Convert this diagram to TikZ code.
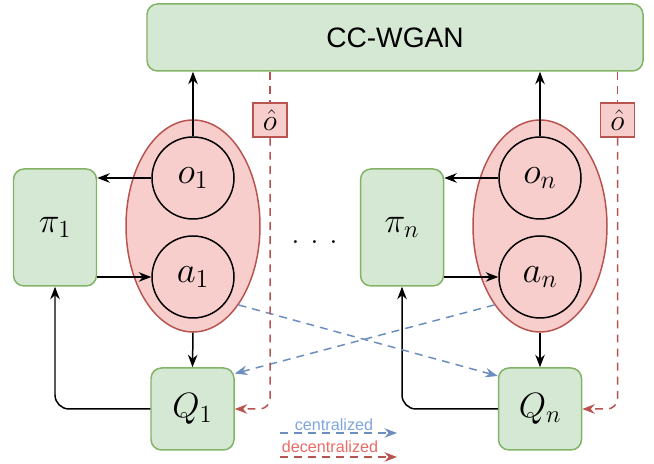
\documentclass[tikz,border=0pt]{standalone}
\usepackage{fix-cm}
\usepackage{fontspec}
\setsansfont{Liberation Sans}
\usetikzlibrary{arrows.meta,shapes.geometric}

\definecolor{boxgreen}{HTML}{D5E8D4}
\definecolor{linegreen}{HTML}{82B366}
\definecolor{boxred}{HTML}{F8CECC}
\definecolor{linered}{HTML}{B85450}
\definecolor{lineblue}{HTML}{6C8EBF}
\definecolor{textblue}{HTML}{7EA6E0}
\definecolor{textred}{HTML}{EA6B66}

\begin{document}
\begin{tikzpicture}[
    >={Stealth[length=2.5mm,width=1.9mm]},
    line width=0.85pt,
    netbox/.style={draw=linegreen, fill=boxgreen, rounded corners=6pt,
        minimum width=1.66cm, minimum height=1.64cm, font=\fontsize{20}{24}\selectfont},
    agent/.style={ellipse, draw=linered, fill=boxred, minimum width=2.68cm, minimum height=4.24cm},
    var/.style={circle, draw, fill=boxred, minimum size=1.64cm, inner sep=0pt, font=\fontsize{21}{25}\selectfont},
    obsbox/.style={draw=linered, fill=boxred, minimum size=0.68cm, inner sep=0pt, font=\fontsize{17}{20}\selectfont},
    central/.style={draw=lineblue, dash pattern=on 4.5pt off 3.5pt},
    decentral/.style={draw=linered, dash pattern=on 4.5pt off 3.5pt},
    legend/.style={anchor=base, font=\sffamily\fontsize{9.2}{10}\selectfont}
]
    \useasboundingbox (0,0) rectangle (13.08,9.28);

    % Discriminator
    \node[netbox, minimum width=9.92cm, minimum height=1.34cm, font=\sffamily\fontsize{16}{19}\selectfont]
        (wgan) at (7.90,8.53) {CC-WGAN};

    % Agents
    \node[agent] (e1) at (3.86,4.76) {};
    \node[agent] (e2) at (10.80,4.76) {};
    \node[var] (o1) at (3.86,5.72) {$o_1$};
    \node[var] (a1) at (3.86,3.74) {$a_1$};
    \node[var] (on) at (10.80,5.72) {$o_n$};
    \node[var] (an) at (10.80,3.74) {$a_n$};

    % Actors and critics
    \node[netbox, minimum height=2.34cm] (pi1) at (1.10,4.73) {$\pi_1$};
    \node[netbox, minimum height=2.34cm] (pin) at (8.04,4.73) {$\pi_n$};
    \node[netbox] (q1) at (3.85,1.10) {$Q_1$};
    \node[netbox] (qn) at (10.80,1.10) {$Q_n$};

    \node[anchor=base, font=\fontsize{20}{24}\selectfont] (dots) at (6.30,4.40) {.\hspace{0.2cm}.\hspace{0.2cm}.};

    % Generated observations
    \node[obsbox] (ohat1) at (5.40,6.88) {$\hat{o}$};
    \node[obsbox] (ohatn) at (12.35,6.88) {$\hat{o}$};

    % Solid connections
    \draw[->] (o1.north) -- (o1.north |- wgan.south);
    \draw[->] (on.north) -- (on.north |- wgan.south);
    \draw[->] (o1.west) -- (o1.west -| pi1.east);
    \draw[->] (on.west) -- (on.west -| pin.east);
    \draw[->] (a1.west -| pi1.east) -- (a1.west);
    \draw[->] (an.west -| pin.east) -- (an.west);
    \draw[->] (e1.south) -- (q1.north);
    \draw[->] (e2.south) -- (qn.north);
    \draw[->, rounded corners=8pt] (q1.west) -| (pi1.south);
    \draw[->, rounded corners=8pt] (qn.west) -| (pin.south);

    % Centralized inputs
    \draw[central, ->] (e1.300) -- (qn.142);
    \draw[central, ->] (e2.240) -- (q1.40);

    % Decentralized inputs
    \draw[decentral] (ohat1.north |- wgan.south) -- (ohat1.north);
    \draw[decentral, ->, rounded corners=6pt] (ohat1.south) |- (q1.east);
    \draw[decentral] (ohatn.north |- wgan.south) -- (ohatn.north);
    \draw[decentral, ->, rounded corners=6pt] (ohatn.south) |- (qn.east);

    % Legend
    \coordinate (c0) at (5.60,0.62);
    \coordinate (c1) at (7.94,0.62);
    \coordinate (d0) at (5.60,0.14);
    \coordinate (d1) at (7.94,0.14);
    \draw[central, ->] (c0) -- (c1);
    \draw[decentral, ->] (d0) -- (d1);
    \node[legend, text=textblue] (cent) at (6.68,0.66) {centralized};
    \node[legend, text=textred] (decent) at (6.60,0.22) {decentralized};
\end{tikzpicture}
\end{document}
